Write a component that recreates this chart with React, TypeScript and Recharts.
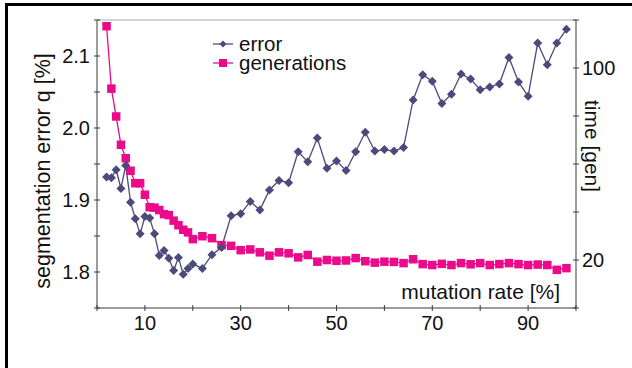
import React from 'react'
import { ComposedChart, Line, XAxis, YAxis, Legend, ReferenceLine } from 'recharts'

// mutation rate [%] for each run
const mutationRate = [
  2, 3, 4, 5, 6, 7, 8, 9, 10, 11, 12, 13, 14, 15, 16, 17, 18, 19, 20,
  22, 24, 26, 28, 30, 32, 34, 36, 38, 40, 42, 44, 46, 48, 50, 52, 54, 56, 58,
  60, 62, 64, 66, 68, 70, 72, 74, 76, 78, 80, 82, 84, 86, 88, 90, 92, 94, 96, 98,
]

// segmentation error q [%] (left axis)
const errorPct = [
  1.932, 1.931, 1.942, 1.916, 1.948, 1.897, 1.874, 1.853, 1.877, 1.875, 1.853, 1.823, 1.83, 1.819, 1.802, 1.82, 1.797, 1.805, 1.811,
  1.805, 1.824, 1.834, 1.878, 1.881, 1.898, 1.886, 1.914, 1.927, 1.924, 1.967, 1.953, 1.986, 1.944, 1.954, 1.941, 1.967, 1.994, 1.968,
  1.97, 1.968, 1.973, 2.039, 2.074, 2.065, 2.034, 2.047, 2.075, 2.068, 2.053, 2.057, 2.061, 2.098, 2.064, 2.044, 2.118, 2.088, 2.118, 2.137,
]

// time to converge [generations] (right axis)
const generations = [
  117.4, 91.4, 79.8, 68.0, 62.4, 57.2, 52.0, 52.0, 47.2, 42.0, 41.8, 40.8, 39.1, 38.7, 36.4, 34.5, 32.6, 31.5, 28.7,
  29.9, 29.1, 26.2, 25.9, 24.1, 24.4, 23.2, 21.8, 23.2, 22.8, 21.1, 22.1, 19.3, 20.0, 19.7, 19.8, 20.8, 19.5, 18.9,
  19.3, 19.2, 18.7, 20.3, 18.3, 17.9, 18.4, 17.9, 18.7, 18.2, 18.7, 17.9, 18.3, 18.7, 18.3, 17.9, 18.1, 17.9, 15.9, 16.6,
]

const xTicks = [0, 10, 20, 30, 40, 50, 60, 70, 80, 90, 100]
const xLabels = [10, 30, 50, 70, 90]
const errTicks = [1.75, 1.8, 1.85, 1.9, 1.95, 2.0, 2.05, 2.1, 2.15]
const errLabels = [1.8, 1.9, 2.0, 2.1]
const genTicks = [0, 20, 40, 60, 80, 100, 120]
const genLabels = [20, 100]

const data = mutationRate.map((x, i) => ({ x, error: errorPct[i], generations: generations[i] }))

const ERR = '#4c4a7c'
const GEN = '#ea0a8a'
const AXIS = '#3a3a3a'
const FONT = '"Liberation Sans", Arial, Helvetica, sans-serif'

const same = (a: number, b: number) => Math.abs(a - b) < 1e-6

const XTick = ({ x, y, payload }: any) => {
  const ay = y - 8
  const show = xLabels.some(v => same(v, payload.value))
  return (
    <g>
      <line x1={x} x2={x} y1={ay - 3} y2={ay + 3} stroke={AXIS} />
      {show && (
        <text x={x} y={y} dy="0.72em" textAnchor="middle" fontSize={20} fill="#111" fontFamily={FONT}>
          {payload.value}
        </text>
      )}
    </g>
  )
}

const LeftTick = ({ x, y, payload }: any) => {
  const ax = x + 7
  const show = errLabels.some(v => same(v, payload.value))
  return (
    <g>
      <line x1={ax - 3} x2={ax + 3} y1={y} y2={y} stroke={AXIS} />
      {show && (
        <text x={x} y={y} dy="0.36em" textAnchor="end" fontSize={20} fill="#111" fontFamily={FONT}>
          {payload.value.toFixed(1)}
        </text>
      )}
    </g>
  )
}

const RightTick = ({ x, y, payload }: any) => {
  const ax = x - 6
  const show = genLabels.some(v => same(v, payload.value))
  return (
    <g>
      <line x1={ax - 3} x2={ax + 3} y1={y} y2={y} stroke={AXIS} />
      {show && (
        <text x={x} y={y} dy="0.36em" textAnchor="start" fontSize={20} fill="#111" fontFamily={FONT}>
          {payload.value}
        </text>
      )}
    </g>
  )
}

const Diamond = (p: any) => {
  const { cx, cy, index } = p
  if (cx == null || cy == null) return <g key={index} />
  const r = 4.5
  return <path key={index} d={`M${cx},${cy - r}L${cx + r},${cy}L${cx},${cy + r}L${cx - r},${cy}Z`} fill={ERR} />
}

const Square = (p: any) => {
  const { cx, cy, index } = p
  if (cx == null || cy == null) return <g key={index} />
  const s = 8.5
  return <rect key={index} x={cx - s / 2} y={cy - s / 2} width={s} height={s} fill={GEN} />
}

const LegendBox = () => (
  <div style={{ fontFamily: FONT, fontSize: 20.5, lineHeight: '19px', color: '#111' }}>
    {[
      { name: 'error', color: ERR, shape: 'diamond' },
      { name: 'generations', color: GEN, shape: 'square' },
    ].map(item => (
      <div key={item.name} style={{ display: 'flex', alignItems: 'center', height: 19 }}>
        <svg width={26} height={12}>
          <line x1={0} x2={20} y1={6} y2={6} stroke={item.color} strokeWidth={1.3} />
          {item.shape === 'diamond' ? (
            <path d="M10,2.5L13.5,6L10,9.5L6.5,6Z" fill={item.color} />
          ) : (
            <rect x={6} y={2} width={8} height={8} fill={item.color} />
          )}
        </svg>
        <span>{item.name}</span>
      </div>
    ))}
  </div>
)

export default function App() {
  return (
    <div style={{ position: 'absolute', left: 0, top: 0, width: 632, height: 368, background: '#fff' }}>
      <ComposedChart width={632} height={368} data={data} margin={{ top: 20, right: 0, bottom: 0, left: 0 }}>
        <XAxis
          dataKey="x"
          type="number"
          domain={[0, 100]}
          ticks={xTicks}
          interval={0}
          height={60}
          tickSize={3}
          tickMargin={5}
          tickLine={false}
          stroke={AXIS}
          tick={<XTick />}
          label={{
            content: () => (
              <text x={560} y={299} textAnchor="end" fontSize={21} fill="#111" fontFamily={FONT}>
                mutation rate [%]
              </text>
            ),
          }}
        />
        <YAxis
          yAxisId="left"
          type="number"
          domain={[1.75, 2.15]}
          ticks={errTicks}
          interval={0}
          width={97}
          tickSize={3}
          tickMargin={4}
          tickLine={false}
          stroke={AXIS}
          tick={<LeftTick />}
          label={{
            content: () => (
              <text
                transform="translate(43,171) rotate(-90)"
                textAnchor="middle"
                dominantBaseline="central"
                fontSize={21.5}
                fill="#111"
                fontFamily={FONT}
              >
                segmentation error q [%]
              </text>
            ),
          }}
        />
        <YAxis
          yAxisId="right"
          orientation="right"
          type="number"
          domain={[0, 120]}
          ticks={genTicks}
          interval={0}
          width={56}
          tickSize={3}
          tickMargin={3}
          tickLine={false}
          stroke={AXIS}
          tick={<RightTick />}
          label={{
            content: () => (
              <text
                transform="translate(592,146) rotate(90)"
                textAnchor="middle"
                dominantBaseline="central"
                fontSize={21}
                fill="#111"
                fontFamily={FONT}
              >
                time [gen]
              </text>
            ),
          }}
        />
        <ReferenceLine yAxisId="left" y={2.15} stroke="#a8a8a8" strokeWidth={1.2} />
        <Legend
          layout="vertical"
          align="center"
          verticalAlign="middle"
          wrapperStyle={{ left: 213, top: 34, width: 160 }}
          content={<LegendBox />}
        />
        <Line
          yAxisId="right"
          dataKey="generations"
          name="generations"
          stroke={GEN}
          strokeWidth={1.3}
          dot={Square}
          activeDot={false}
          isAnimationActive={false}
        />
        <Line
          yAxisId="left"
          dataKey="error"
          name="error"
          stroke={ERR}
          strokeWidth={1.3}
          dot={Diamond}
          activeDot={false}
          isAnimationActive={false}
        />
      </ComposedChart>
      <div
        style={{
          position: 'absolute',
          left: 5,
          top: 3,
          right: 0,
          bottom: 0,
          borderTop: '3px solid #000',
          borderLeft: '3px solid #000',
          pointerEvents: 'none',
        }}
      />
    </div>
  )
}
